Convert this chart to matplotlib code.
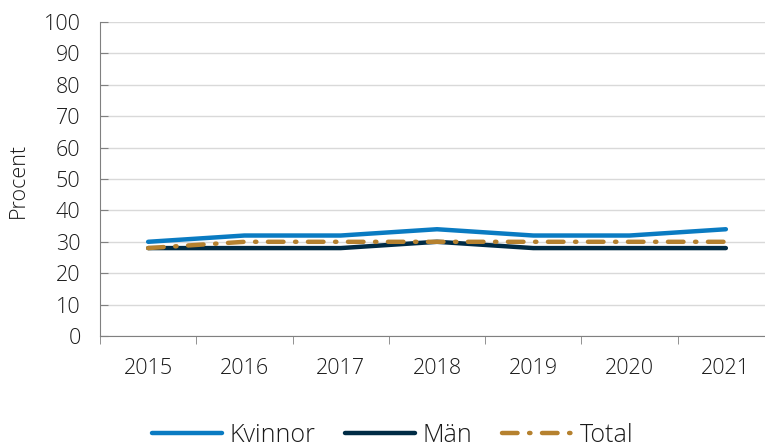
import matplotlib.pyplot as plt
from matplotlib.ticker import FixedLocator, NullFormatter

years = ["2015", "2016", "2017", "2018", "2019", "2020", "2021"]
kvinnor = [30, 32, 32, 34, 32, 32, 34]
man = [28, 28, 28, 30, 28, 28, 28]
total = [28, 30, 30, 30, 30, 30, 30]

plt.rcParams['font.family'] = ['Open Sans', 'DejaVu Sans']
plt.rcParams['font.weight'] = 'light'

fig = plt.figure(figsize=(7.65, 4.47), dpi=100)
ax = fig.add_axes([100 / 765, 1 - 336 / 447, 674 / 765, 314 / 447])

x = range(len(years))
ax.plot(x, kvinnor, color="#0a7bc2", lw=3.2, label="Kvinnor", solid_capstyle="round", zorder=3)
ax.plot(x, man, color="#002b45", lw=3.2, label="Män", solid_capstyle="round", zorder=3)
ax.plot(x, total, color="#b5812f", lw=3.2, label="Total", dashes=(3.5, 2.6, 0.3, 2.6),
        dash_capstyle="round", zorder=4)

ax.set_xlim(-0.5, 6.5)
ax.set_ylim(0, 100)
ax.set_yticks(range(0, 101, 10))
ax.yaxis.grid(True, color="#d9d9d9", lw=1)
ax.set_axisbelow(True)

ax.set_xticks(list(x))
ax.set_xticklabels(years)
ax.tick_params(axis="x", which="major", length=0, pad=16, labelsize=15.5, labelcolor="#1a1a1a")
ax.xaxis.set_minor_locator(FixedLocator([i - 0.5 for i in range(8)]))
ax.xaxis.set_minor_formatter(NullFormatter())
ax.tick_params(axis="x", which="minor", length=6, color="#808080")
ax.tick_params(axis="y", direction="in", length=6, color="#808080", labelsize=15.5,
               labelcolor="#1a1a1a", pad=14)

for s in ["top", "right"]:
    ax.spines[s].set_visible(False)
ax.spines["left"].set_color("#808080")
ax.spines["bottom"].set_color("#808080")

fig.text(18 / 765, 1 - 180 / 447, "Procent", rotation=90, ha="center", va="center",
         fontsize=15.5, color="#1a1a1a")

fig.legend(loc="center", bbox_to_anchor=(0.513, 1 - 435 / 447), ncol=3, frameon=False,
           fontsize=18, handlelength=2.8, columnspacing=1.2, handletextpad=0.3,
           labelcolor="#1a1a1a")

fig.savefig("out.png", dpi=100)
